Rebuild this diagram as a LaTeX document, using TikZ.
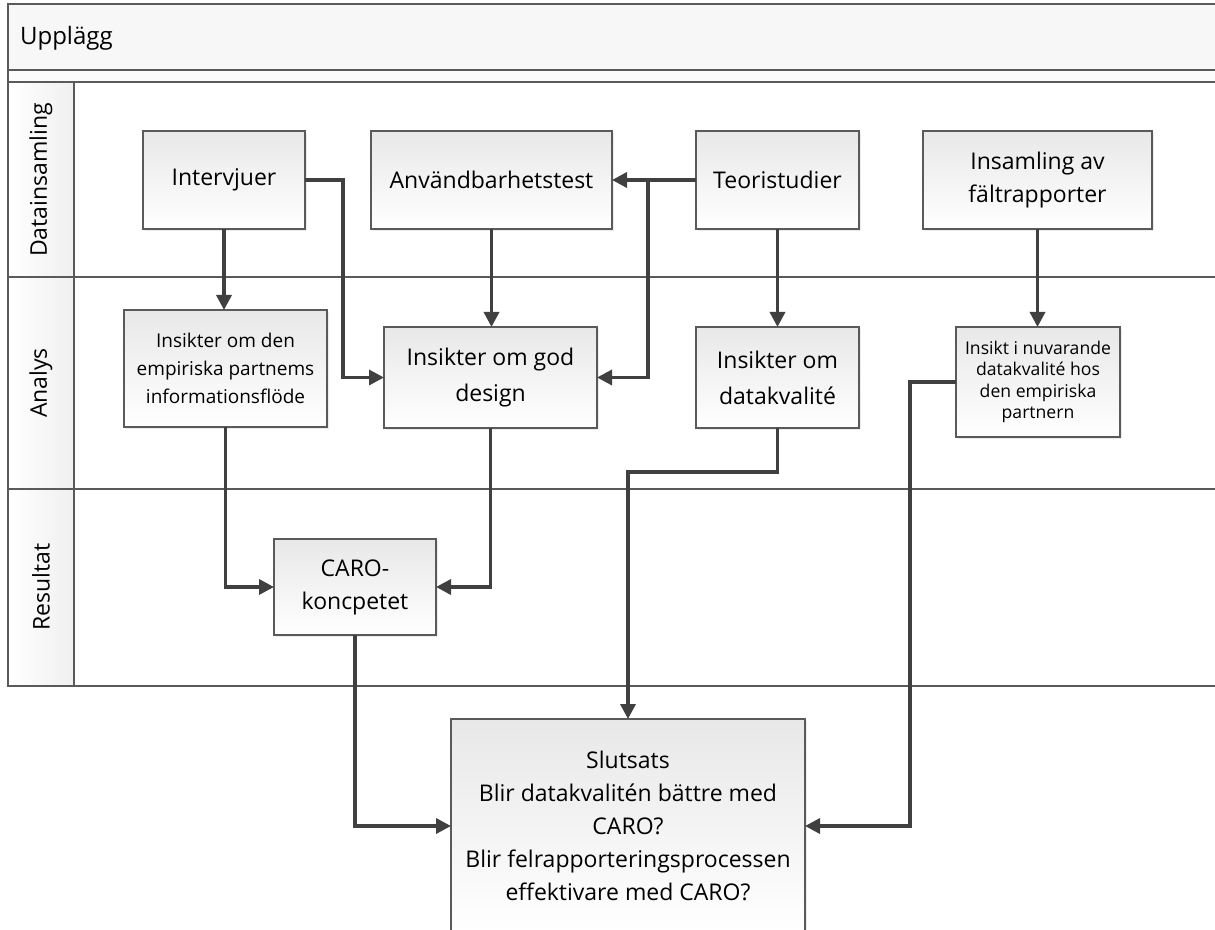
\documentclass[tikz,border=0pt]{standalone}
\usepackage{fontspec}
\setmainfont{Open Sans}
\usetikzlibrary{arrows.meta,shadows}

\definecolor{linegray}{HTML}{404040}
\definecolor{framegray}{HTML}{5A5A5A}

\tikzset{
  box/.style={draw=framegray, line width=0.7pt, top color=black!9, bottom color=white,
    align=center, inner sep=2pt, outer sep=0pt,
    drop shadow={shadow xshift=1.2pt, shadow yshift=-1.2pt, opacity=0.15},
    font=\fontsize{11.5}{16.5}\selectfont},
  arr/.style={draw=linegray, line width=1.7pt, -{Triangle[length=7.5pt,width=7.5pt]}},
  lane/.style={draw=framegray, line width=0.6pt},
  lanelabel/.style={rotate=90, font=\fontsize{11.5}{14}\selectfont}
}

\begin{document}
\begin{tikzpicture}[x=0.5pt,y=-0.5pt]
        \useasboundingbox (0,0) rectangle (1215,930);
        % pool and lanes
        \fill[black!3] (8,4) rectangle (1215,70);
        \fill[black!1] (8,70) rectangle (1215,82);
        \shade[left color=white, right color=black!6] (8,82) rectangle (74,686);
        \draw[lane] (1215,4) -- (8,4) -- (8,686) -- (1215,686);
        \draw[lane] (8,70) -- (1215,70);
        \draw[lane] (8,82) -- (1215,82);
        \draw[lane] (8,277) -- (1215,277);
        \draw[lane] (8,489) -- (1215,489);
        \draw[lane] (74,82) -- (74,686);
        \node[anchor=west, font=\fontsize{12}{14}\selectfont] (pool) at (13,38) {Upplägg};
        \node[lanelabel] (lanedata) at (41,180) {Datainsamling};
        \node[lanelabel] (laneanal) at (41,383) {Analys};
        \node[lanelabel] (laneres) at (41,587) {Resultat};
        % data collection
        \node[box, minimum width=81pt, minimum height=49pt] (intv) at (224,180) {Intervjuer};
        \node[box, minimum width=120.5pt, minimum height=49pt] (usab) at (491.5,180) {Användbarhetstest};
        \node[box, minimum width=81.5pt, minimum height=49pt] (teori) at (777.5,180) {Teoristudier};
        \node[box, minimum width=114.5pt, minimum height=49pt] (insaml) at (1037.5,180) {Insamling av\\fältrapporter};
        % analysis
        \node[box, minimum width=101.5pt, minimum height=58.5pt, font=\fontsize{9.5}{14}\selectfont] (emp) at (225.5,368.5) {Insikter om den\\empiriska partnems\\informationsflöde};
        \node[box, minimum width=106.5pt, minimum height=50.5pt, font=\fontsize{11.5}{18}\selectfont] (design) at (490.5,377.5) {Insikter om god\\design};
        \node[box, minimum width=81.5pt, minimum height=50.5pt, font=\fontsize{11.5}{18}\selectfont] (dkval) at (777.5,377.5) {Insikter om\\datakvalité};
        \node[box, minimum width=82pt, minimum height=55pt, font=\fontsize{8.8}{10.8}\selectfont] (nuv) at (1038,382) {Insikt i nuvarande\\datakvalité hos\\den empiriska\\partnern};
        % result
        \node[box, minimum width=81pt, minimum height=48pt] (caro) at (355,587) {CARO-\\koncpetet};
        % conclusion
        \node[box, minimum width=177pt, minimum height=107pt] (slut) at (628,826) {Slutsats\\Blir datakvalitén bättre med\\CARO?\\Blir felrapporteringsprocessen\\effektivare med CARO?};
        % connectors
        \draw[arr] (intv.south) -- (intv.south |- emp.north);
        \draw[arr] (intv.east) -- ++(38,0) |- (design.west);
        \draw[arr] (usab.south) -- (usab.south |- design.north);
        \draw[arr] (teori.west) -- (usab.east);
        \draw[arr] (teori.west) -- ++(-48,0) |- (design.east);
        \draw[arr] (teori.south) -- (dkval.north);
        \draw[arr] (insaml.south) -- (insaml.south |- nuv.north);
        \draw[arr] (emp.south) |- (caro.west);
        \draw[arr] (design.south) |- (caro.east);
        \draw[arr] (caro.south) |- (slut.west);
        \draw[arr] (dkval.south) -- ++(0,44) -| (slut.north);
        \draw[arr] (nuv.west) -- ++(-46,0) |- (slut.east);
\end{tikzpicture}
\end{document}
